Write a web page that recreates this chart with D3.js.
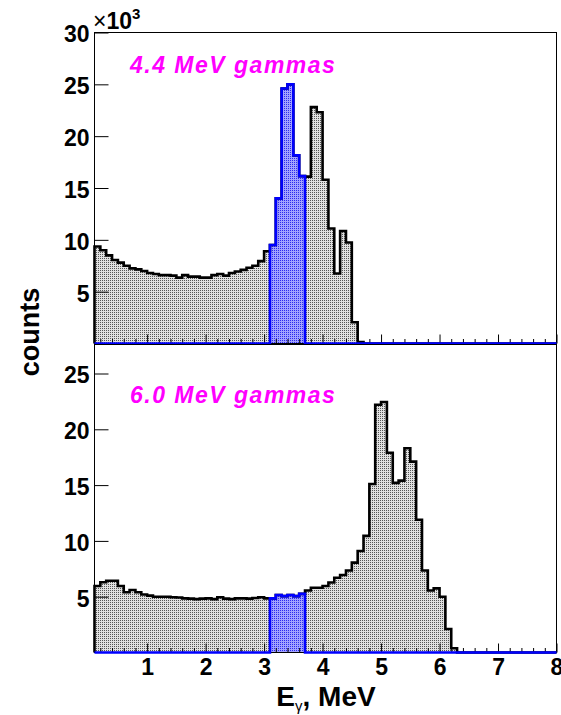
<!DOCTYPE html>
<html>
<head>
<meta charset="utf-8">
<script src="https://cdn.jsdelivr.net/npm/d3@7"></script>
<style>
html,body{margin:0;padding:0;background:#fff;}
svg{display:block;}
text{font-family:"Liberation Sans",Arial,Helvetica,sans-serif;}
</style>
</head>
<body>
<svg id="c" width="561" height="715"></svg>
<script>
// ---- data (counts in units of 10^3, bins of 0.1 MeV starting at 0.1 MeV) ----
const binStart = 0.1;
const binWidth = 0.1;
const xTickLabels = [1, 2, 3, 4, 5, 6, 7, 8];
const yTicksTop = [5, 10, 15, 20, 25, 30];
const yTicksBottom = [5, 10, 15, 20, 25];
const panelLabels = ["4.4 MeV gammas", "6.0 MeV gammas"];
const selStart = 30, selEnd = 35;   // selected bins 3.1 - 3.7 MeV

const counts44 = [
  9.35, 9.0, 8.5, 8.05, 7.8, 7.5, 7.25, 7.15, 7.0, 6.8,
  6.7, 6.6, 6.6, 6.55, 6.35, 6.6, 6.45, 6.45, 6.35, 6.35,
  6.6, 6.7, 6.55, 6.8, 6.95, 7.1, 7.3, 7.5, 7.95, 8.9,
  9.5, 14.0, 24.6, 25.0, 18.15, 16.15, 16.1, 22.8, 22.3, 15.8,
  11.1, 6.75, 10.85, 9.75, 2.05, 0.15, 0, 0, 0, 0,
  0, 0, 0, 0, 0, 0, 0, 0, 0, 0,
  0, 0, 0, 0, 0, 0, 0, 0, 0, 0,
  0, 0, 0, 0, 0, 0, 0, 0, 0
];
const counts60 = [
  5.96, 6.3, 6.43, 6.43, 5.96, 5.4, 5.6, 5.4, 5.2, 5.1,
  5.0, 5.0, 5.0, 4.95, 4.93, 4.85, 4.83, 4.78, 4.83, 4.85,
  4.78, 4.95, 4.83, 4.78, 4.85, 4.85, 4.83, 4.88, 4.95, 4.85,
  4.85, 5.15, 5.05, 5.15, 5.05, 5.25, 5.55, 5.8, 5.8, 5.96,
  6.27, 6.7, 6.95, 7.35, 8.05, 9.1, 10.45, 15.1, 22.2, 22.45,
  17.9, 15.2, 15.4, 18.3, 17.1, 11.9, 7.35, 5.55, 5.75, 5.0,
  2.1, 0.38, 0, 0, 0, 0, 0, 0, 0, 0,
  0, 0, 0, 0, 0, 0, 0, 0, 0
];

const svg = d3.select("#c");
const defs = svg.append("defs");
const pg = defs.append("pattern").attr("id","gray").attr("width",2).attr("height",2)
  .attr("patternUnits","userSpaceOnUse");
pg.append("rect").attr("width",2).attr("height",2).attr("fill","#e0e0e0");
pg.append("rect").attr("width",1).attr("height",1).attr("fill","#555555");
const pb = defs.append("pattern").attr("id","blue").attr("width",2).attr("height",2)
  .attr("patternUnits","userSpaceOnUse");
pb.append("rect").attr("width",2).attr("height",2).attr("fill","#a2a2ff");
pb.append("rect").attr("width",1).attr("height",1).attr("fill","#2a2aee");

const x = d3.scaleLinear().domain([0.1, 8]).range([94.5, 556.5]);

function stepPoints(vals) {
  const pts = [[binStart, 0]];
  vals.forEach((v, i) => {
    const e0 = binStart + i * binWidth, e1 = binStart + (i + 1) * binWidth;
    pts.push([e0, v], [e1, v]);
  });
  pts.push([binStart + vals.length * binWidth, 0]);
  return pts;
}

function panel(vals, y, yTicks, label, labelY, showXLabels) {
  const g = svg.append("g");
  const sel = vals.map((v, i) => (i >= selStart && i <= selEnd) ? v : 0);
  const area = d3.area().x(d => x(d[0])).y0(y(0)).y1(d => y(d[1]));
  const line = d3.line().x(d => x(d[0])).y(d => y(d[1]));
  const [r0, r1] = y.range();

  g.append("path").attr("d", area(stepPoints(vals))).attr("fill", "url(#gray)");
  g.append("path").attr("d", area(stepPoints(sel))).attr("fill", "url(#blue)");

  // minor x ticks
  const minor = d3.range(0.2, 8.001, 0.2).filter(v => Math.abs(v - Math.round(v)) > 1e-6);
  g.append("g").attr("transform", `translate(0,${r0})`)
    .call(d3.axisBottom(x).tickValues(minor).tickSizeInner(-4.5).tickSizeOuter(0).tickFormat(""))
    .call(a => a.select(".domain").remove());
  // major x ticks
  const xa = g.append("g").attr("transform", `translate(0,${r0})`)
    .call(d3.axisBottom(x).tickValues(xTickLabels).tickSizeInner(-9).tickSizeOuter(0)
      .tickPadding(6).tickFormat(showXLabels ? d3.format("d") : ""));
  xa.select(".domain").remove();
  xa.selectAll("text").attr("font-size", 23).attr("font-weight", "bold").attr("fill", "#000")
    .attr("font-family", "'Liberation Sans',Arial,sans-serif");
  // y ticks
  const ya = g.append("g").attr("transform", `translate(94.5,0)`)
    .call(d3.axisLeft(y).tickValues(yTicks).tickSizeInner(-14).tickSizeOuter(0).tickPadding(5)
      .tickFormat(d3.format("d")));
  ya.select(".domain").remove();
  ya.selectAll("text").attr("font-size", 23).attr("font-weight", "bold").attr("fill", "#000")
    .attr("dy", "0.41em").attr("font-family", "'Liberation Sans',Arial,sans-serif");

  // frame
  g.append("rect").attr("x", 94.5).attr("y", r1).attr("width", 462).attr("height", r0 - r1)
    .attr("fill", "none").attr("stroke", "#000").attr("stroke-width", 1);

  g.append("path").attr("d", line(stepPoints(vals))).attr("fill", "none")
    .attr("stroke", "#000").attr("stroke-width", 2.6).attr("stroke-linejoin", "miter");
  g.append("path").attr("d", line(stepPoints(sel))).attr("fill", "none")
    .attr("stroke", "#0000ff").attr("stroke-width", 2.6).attr("stroke-linejoin", "miter");

  g.append("text").attr("x", 130).attr("y", labelY).text(label)
    .attr("font-size", 23).attr("font-weight", "bold").attr("font-style", "italic")
    .attr("letter-spacing", 1.5).attr("fill", "#ff00ff");
}

const yTop = d3.scaleLinear().domain([0, 30]).range([343.5, 32.5]);
const yBot = d3.scaleLinear().domain([0, 27.6]).range([652.5, 344.5]);

panel(counts44, yTop, yTicksTop, panelLabels[0], 73, false);
panel(counts60, yBot, yTicksBottom, panelLabels[1], 403, true);

// exponent label
const ex = svg.append("text").attr("x", 93).attr("y", 29).attr("font-size", 23).attr("fill", "#000");
ex.append("tspan").text("\u00d7").attr("font-weight", "normal");
ex.append("tspan").text("10").attr("font-weight", "bold");
ex.append("tspan").text("3").attr("font-weight", "bold").attr("font-size", 15).attr("dy", -10);

// axis titles
svg.append("text").attr("transform", "translate(39,332) rotate(-90)")
  .attr("text-anchor", "middle").attr("font-size", 27).attr("font-weight", "bold").text("counts");
const xt = svg.append("text").attr("x", 326).attr("y", 706).attr("text-anchor", "middle")
  .attr("font-size", 28).attr("font-weight", "bold");
xt.append("tspan").text("E");
xt.append("tspan").text("\u03b3").attr("font-size", 15).attr("font-weight", "normal").attr("dy", 5);
xt.append("tspan").text(", MeV").attr("dy", -5);
</script>
</body>
</html>
